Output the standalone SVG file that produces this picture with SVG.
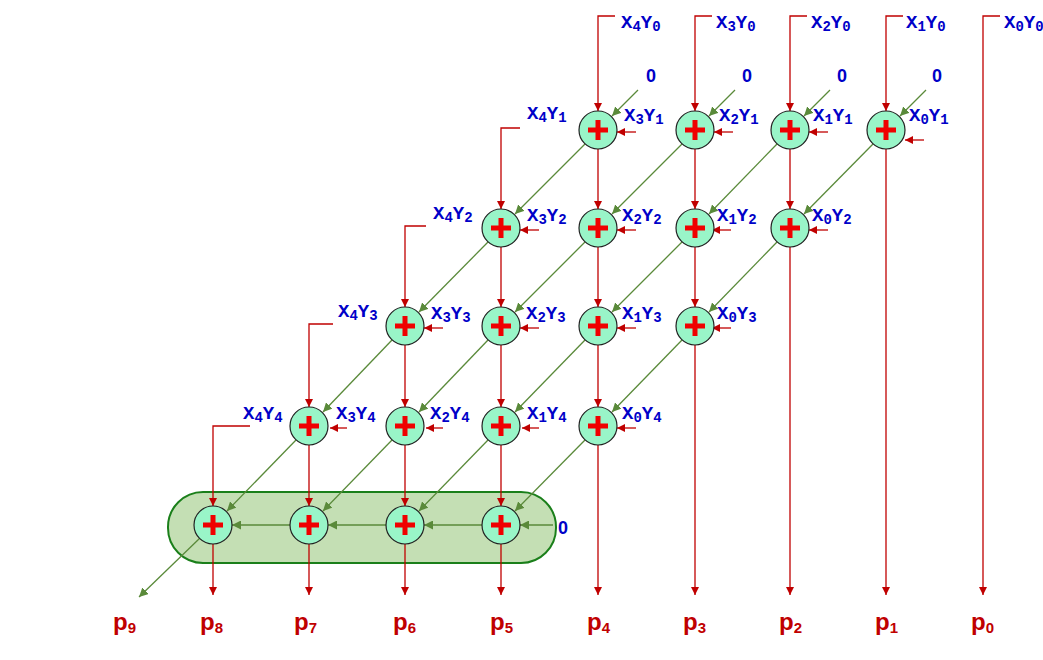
<svg xmlns="http://www.w3.org/2000/svg" width="1043" height="660" viewBox="0 0 1043 660">
<style>
.r{stroke:#c00000;stroke-width:1.3;fill:none;marker-end:url(#ar)}
.g{stroke:#5a8a3a;stroke-width:1.3;fill:none;marker-end:url(#ag)}
.l{font-family:"Liberation Mono",monospace;font-weight:bold;font-size:19px;fill:#0000c8}
.s{font-size:14px}
.z{font-family:"Liberation Sans",Arial,sans-serif;font-weight:bold;font-size:18px;fill:#0000c8}
.p{font-family:"Liberation Sans",Arial,sans-serif;font-weight:bold;font-size:24px;fill:#c00000}
.ps{font-size:15px}
</style>
<defs>
<marker id="ar" viewBox="0 0 10 10" refX="10" refY="5" markerWidth="8" markerHeight="8" orient="auto" markerUnits="userSpaceOnUse"><path d="M0,0L10,5L0,10z" fill="#c00000"/></marker>
<marker id="ag" viewBox="0 0 10 10" refX="10" refY="5" markerWidth="9" markerHeight="9" orient="auto" markerUnits="userSpaceOnUse"><path d="M0,0L10,5L0,10z" fill="#5a8a3a"/></marker>
<symbol id="add" overflow="visible"><circle r="19" fill="#99f5c8" stroke="#222" stroke-width="1.2"/><path d="M-10,0H10M0,-10V10" stroke="#f00000" stroke-width="5" fill="none"/></symbol>
</defs>
<rect id="highlight" x="168" y="492" width="388" height="71" rx="35" fill="#c4dfb4" stroke="#1a7f1a" stroke-width="2"/>
<g id="connectors">
<path class="r" d="M615,16H598V111"/>
<path class="r" d="M712,16H695V111"/>
<path class="r" d="M807,16H790V111"/>
<path class="r" d="M903,16H886V111"/>
<path class="r" d="M1000,16H983V595"/>
<path class="r" d="M520,128H501V209"/>
<path class="r" d="M426,226H405V307"/>
<path class="r" d="M333,324H309V407"/>
<path class="r" d="M250,426H213V506"/>
<path class="r" d="M636,132H617"/><path class="r" d="M733,132H714"/><path class="r" d="M828,132H809"/><path class="r" d="M924,140H905"/>
<path class="r" d="M539,230H520"/><path class="r" d="M636,230H617"/><path class="r" d="M731,230H712"/><path class="r" d="M828,230H809"/>
<path class="r" d="M443,328H424"/><path class="r" d="M539,328H520"/><path class="r" d="M636,328H617"/><path class="r" d="M731,328H712"/>
<path class="r" d="M347,428H330"/><path class="r" d="M443,428H426"/><path class="r" d="M539,428H522"/><path class="r" d="M636,428H617"/>
<path class="r" d="M598,149V209"/><path class="r" d="M695,149V209"/><path class="r" d="M790,149V209"/><path class="r" d="M886,149V595"/>
<path class="r" d="M501,247V307"/><path class="r" d="M598,247V307"/><path class="r" d="M695,247V307"/><path class="r" d="M790,247V595"/>
<path class="r" d="M405,345V407"/><path class="r" d="M501,345V407"/><path class="r" d="M598,345V407"/><path class="r" d="M695,345V595"/>
<path class="r" d="M309,445V506"/><path class="r" d="M405,445V506"/><path class="r" d="M501,445V506"/><path class="r" d="M598,445V595"/>
<path class="r" d="M213,544V595"/><path class="r" d="M309,544V595"/><path class="r" d="M405,544V595"/><path class="r" d="M501,544V595"/>
<path class="g" d="M638,90L612,116"/><path class="g" d="M735,90L709,116"/><path class="g" d="M830,90L804,116"/><path class="g" d="M926,90L900,116"/>
<path class="g" d="M585,144L515,214"/><path class="g" d="M682,144L612,214"/><path class="g" d="M777,144L709,214"/><path class="g" d="M873,144L804,214"/>
<path class="g" d="M488,242L419,312"/><path class="g" d="M585,242L515,312"/><path class="g" d="M682,242L612,312"/><path class="g" d="M777,242L709,312"/>
<path class="g" d="M392,340L323,412"/><path class="g" d="M488,340L419,412"/><path class="g" d="M585,340L515,412"/><path class="g" d="M682,340L612,412"/>
<path class="g" d="M296,440L227,511"/><path class="g" d="M392,440L323,511"/><path class="g" d="M488,440L419,511"/><path class="g" d="M585,440L515,511"/>
<path class="g" d="M553,525H520"/><path class="g" d="M482,525H424"/><path class="g" d="M386,525H328"/><path class="g" d="M290,525H232"/>
<path class="g" d="M200,538L139,597"/>
</g>
<g id="n11"><use href="#add" x="598" y="130"/></g>
<g id="n12"><use href="#add" x="695" y="130"/></g>
<g id="n13"><use href="#add" x="790" y="130"/></g>
<g id="n14"><use href="#add" x="886" y="130"/></g>
<g id="n21"><use href="#add" x="501" y="228"/></g>
<g id="n22"><use href="#add" x="598" y="228"/></g>
<g id="n23"><use href="#add" x="695" y="228"/></g>
<g id="n24"><use href="#add" x="790" y="228"/></g>
<g id="n31"><use href="#add" x="405" y="326"/></g>
<g id="n32"><use href="#add" x="501" y="326"/></g>
<g id="n33"><use href="#add" x="598" y="326"/></g>
<g id="n34"><use href="#add" x="695" y="326"/></g>
<g id="n41"><use href="#add" x="309" y="426"/></g>
<g id="n42"><use href="#add" x="405" y="426"/></g>
<g id="n43"><use href="#add" x="501" y="426"/></g>
<g id="n44"><use href="#add" x="598" y="426"/></g>
<g id="n51"><use href="#add" x="213" y="525"/></g>
<g id="n52"><use href="#add" x="309" y="525"/></g>
<g id="n53"><use href="#add" x="405" y="525"/></g>
<g id="n54"><use href="#add" x="501" y="525"/></g>
<g id="labels" class="l">
<text x="621" y="28">X<tspan class="s" dy="3">4</tspan><tspan dy="-3">Y</tspan><tspan class="s" dy="3">0</tspan></text>
<text x="716" y="28">X<tspan class="s" dy="3">3</tspan><tspan dy="-3">Y</tspan><tspan class="s" dy="3">0</tspan></text>
<text x="811" y="28">X<tspan class="s" dy="3">2</tspan><tspan dy="-3">Y</tspan><tspan class="s" dy="3">0</tspan></text>
<text x="906" y="28">X<tspan class="s" dy="3">1</tspan><tspan dy="-3">Y</tspan><tspan class="s" dy="3">0</tspan></text>
<text x="1004" y="28">X<tspan class="s" dy="3">0</tspan><tspan dy="-3">Y</tspan><tspan class="s" dy="3">0</tspan></text>
<text x="624" y="121">X<tspan class="s" dy="3">3</tspan><tspan dy="-3">Y</tspan><tspan class="s" dy="3">1</tspan></text>
<text x="719" y="121">X<tspan class="s" dy="3">2</tspan><tspan dy="-3">Y</tspan><tspan class="s" dy="3">1</tspan></text>
<text x="813" y="121">X<tspan class="s" dy="3">1</tspan><tspan dy="-3">Y</tspan><tspan class="s" dy="3">1</tspan></text>
<text x="909" y="121">X<tspan class="s" dy="3">0</tspan><tspan dy="-3">Y</tspan><tspan class="s" dy="3">1</tspan></text>
<text x="527" y="119">X<tspan class="s" dy="3">4</tspan><tspan dy="-3">Y</tspan><tspan class="s" dy="3">1</tspan></text>
<text x="527" y="221">X<tspan class="s" dy="3">3</tspan><tspan dy="-3">Y</tspan><tspan class="s" dy="3">2</tspan></text>
<text x="622" y="221">X<tspan class="s" dy="3">2</tspan><tspan dy="-3">Y</tspan><tspan class="s" dy="3">2</tspan></text>
<text x="717" y="221">X<tspan class="s" dy="3">1</tspan><tspan dy="-3">Y</tspan><tspan class="s" dy="3">2</tspan></text>
<text x="812" y="221">X<tspan class="s" dy="3">0</tspan><tspan dy="-3">Y</tspan><tspan class="s" dy="3">2</tspan></text>
<text x="433" y="219">X<tspan class="s" dy="3">4</tspan><tspan dy="-3">Y</tspan><tspan class="s" dy="3">2</tspan></text>
<text x="431" y="319">X<tspan class="s" dy="3">3</tspan><tspan dy="-3">Y</tspan><tspan class="s" dy="3">3</tspan></text>
<text x="526" y="319">X<tspan class="s" dy="3">2</tspan><tspan dy="-3">Y</tspan><tspan class="s" dy="3">3</tspan></text>
<text x="622" y="319">X<tspan class="s" dy="3">1</tspan><tspan dy="-3">Y</tspan><tspan class="s" dy="3">3</tspan></text>
<text x="717" y="319">X<tspan class="s" dy="3">0</tspan><tspan dy="-3">Y</tspan><tspan class="s" dy="3">3</tspan></text>
<text x="338" y="317">X<tspan class="s" dy="3">4</tspan><tspan dy="-3">Y</tspan><tspan class="s" dy="3">3</tspan></text>
<text x="336" y="419">X<tspan class="s" dy="3">3</tspan><tspan dy="-3">Y</tspan><tspan class="s" dy="3">4</tspan></text>
<text x="430" y="419">X<tspan class="s" dy="3">2</tspan><tspan dy="-3">Y</tspan><tspan class="s" dy="3">4</tspan></text>
<text x="527" y="419">X<tspan class="s" dy="3">1</tspan><tspan dy="-3">Y</tspan><tspan class="s" dy="3">4</tspan></text>
<text x="622" y="419">X<tspan class="s" dy="3">0</tspan><tspan dy="-3">Y</tspan><tspan class="s" dy="3">4</tspan></text>
<text x="243" y="419">X<tspan class="s" dy="3">4</tspan><tspan dy="-3">Y</tspan><tspan class="s" dy="3">4</tspan></text>
</g>
<g id="zeros" class="z">
<text x="646" y="82">0</text><text x="742" y="82">0</text><text x="837" y="82">0</text><text x="932" y="82">0</text>
<text x="558" y="534">0</text>
</g>
<g id="outputs" class="p">
<text x="113" y="630">p<tspan class="ps" dy="3">9</tspan></text>
<text x="200" y="630">p<tspan class="ps" dy="3">8</tspan></text>
<text x="294" y="630">p<tspan class="ps" dy="3">7</tspan></text>
<text x="393" y="630">p<tspan class="ps" dy="3">6</tspan></text>
<text x="490" y="630">p<tspan class="ps" dy="3">5</tspan></text>
<text x="587" y="630">p<tspan class="ps" dy="3">4</tspan></text>
<text x="683" y="630">p<tspan class="ps" dy="3">3</tspan></text>
<text x="779" y="630">p<tspan class="ps" dy="3">2</tspan></text>
<text x="875" y="630">p<tspan class="ps" dy="3">1</tspan></text>
<text x="971" y="630">p<tspan class="ps" dy="3">0</tspan></text>
</g>
</svg>
